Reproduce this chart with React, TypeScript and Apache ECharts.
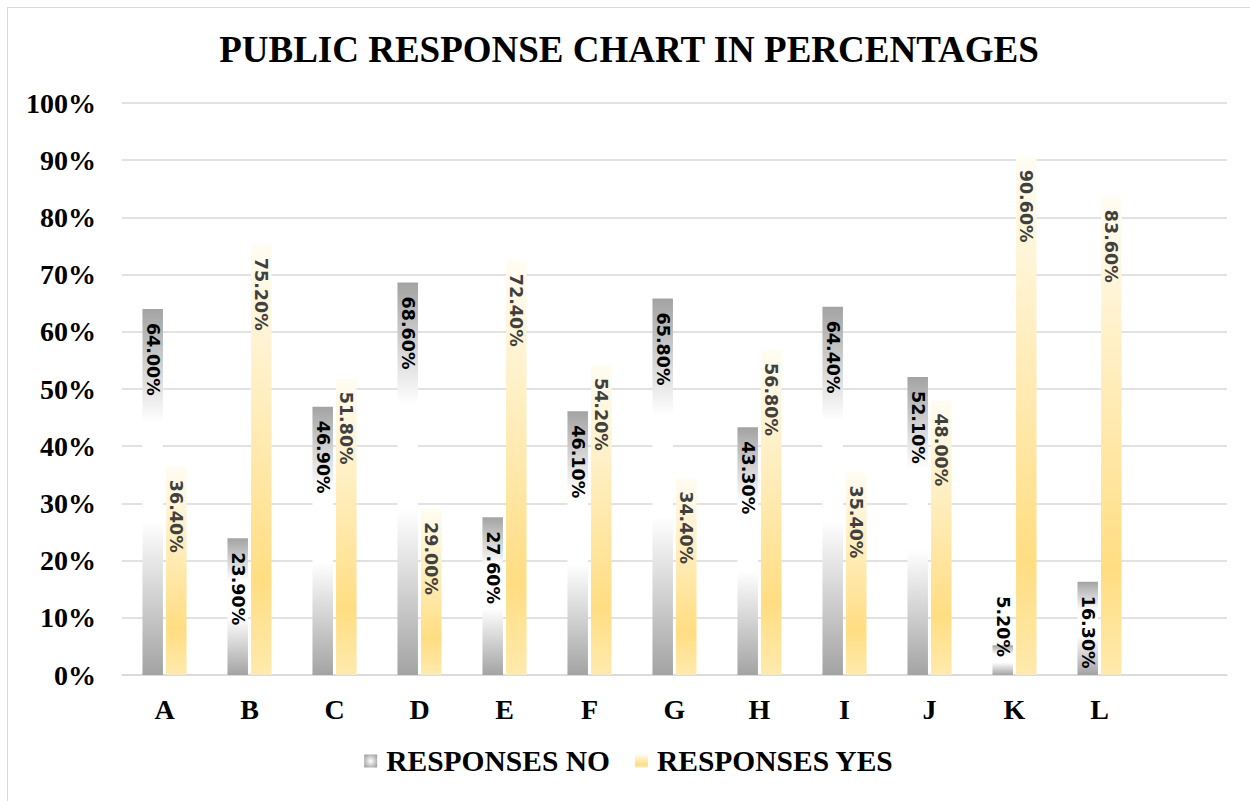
import React, { useEffect, useRef } from "react";
import * as echarts from "echarts";

const categories = ["A", "B", "C", "D", "E", "F", "G", "H", "I", "J", "K", "L", ""];
const responsesNo = [64.0, 23.9, 46.9, 68.6, 27.6, 46.1, 65.8, 43.3, 64.4, 52.1, 5.2, 16.3];
const responsesYes = [36.4, 75.2, 51.8, 29.0, 72.4, 54.2, 34.4, 56.8, 35.4, 48.0, 90.6, 83.6];
const yTicks = { min: 0, max: 100, interval: 10 };
const seriesNames = ["RESPONSES NO", "RESPONSES YES"];

const serif = "'Liberation Serif', 'Times New Roman', serif";
const sans = "'DejaVu Sans', Verdana, sans-serif";

const grayGrad = new echarts.graphic.LinearGradient(0, 0, 0, 1, [
  { offset: 0, color: "#a3a3a3" },
  { offset: 0.31, color: "#ffffff" },
  { offset: 0.58, color: "#ffffff" },
  { offset: 1, color: "#a3a3a3" },
]);
const yellowGrad = new echarts.graphic.LinearGradient(0, 0, 0, 1, [
  { offset: 0, color: "#fffcf2" },
  { offset: 0.78, color: "#ffdd82" },
  { offset: 1, color: "#ffeaad" },
]);
const grayRadial = new echarts.graphic.RadialGradient(0.5, 0.5, 0.6, [
  { offset: 0, color: "#ffffff" },
  { offset: 1, color: "#a3a3a3" },
]);

const fmt = (p: any) => Number(p.value).toFixed(2) + "%";

export default function App() {
  const ref = useRef<HTMLDivElement>(null);
  useEffect(() => {
    if (!ref.current) return;
    const chart = echarts.init(ref.current, undefined, { renderer: "svg" });
    const noData = responsesNo.map((v) =>
      v < 10
        ? {
            value: v,
            label: { position: "insideBottom", distance: 18, align: "right" },
          }
        : { value: v }
    );
    chart.setOption({
      animation: false,
      title: {
        text: "PUBLIC RESPONSE CHART IN PERCENTAGES",
        left: "center",
        top: 18,
        textStyle: { fontFamily: serif, fontWeight: "bold", fontSize: 37, color: "#000" },
      },
      legend: {
        bottom: 20,
        left: "center",
        itemWidth: 13,
        itemHeight: 13,
        itemGap: 25,
        textStyle: { fontFamily: serif, fontWeight: "bold", fontSize: 29.5, color: "#000", padding: [0, 0, 0, 4] },
        data: [
          { name: seriesNames[0], icon: "rect", itemStyle: { color: grayRadial } },
          { name: seriesNames[1], icon: "rect", itemStyle: { color: yellowGrad } },
        ],
      },
      grid: { left: 114, right: 23, top: 95, bottom: 126, containLabel: false },
      xAxis: {
        type: "category",
        data: categories,
        axisLine: { show: true, lineStyle: { color: "#d9d9d9", width: 1.5 } },
        axisTick: { show: false },
        axisLabel: { fontFamily: serif, fontWeight: "bold", fontSize: 28, color: "#000", margin: 20 },
      },
      yAxis: {
        type: "value",
        min: yTicks.min,
        max: yTicks.max,
        interval: yTicks.interval,
        axisLine: { show: false },
        axisTick: { show: false },
        splitLine: { lineStyle: { color: "#d9d9d9", width: 1.5 } },
        axisLabel: {
          formatter: "{value}%",
          fontFamily: serif,
          fontWeight: "bold",
          fontSize: 28,
          color: "#000",
          margin: 26,
        },
      },
      series: [
        {
          name: seriesNames[0],
          type: "bar",
          data: noData,
          barWidth: 20.5,
          barGap: "15%",
          itemStyle: { color: grayGrad },
          label: {
            show: true,
            position: "insideTop",
            distance: 14,
            rotate: -90,
            align: "left",
            verticalAlign: "middle",
            formatter: fmt,
            fontFamily: sans,
            fontWeight: "bold",
            fontSize: 17.5,
            color: "#000",
          },
        },
        {
          name: seriesNames[1],
          type: "bar",
          data: responsesYes,
          barWidth: 20.5,
          barGap: "15%",
          itemStyle: { color: yellowGrad },
          label: {
            show: true,
            position: "insideTop",
            distance: 13,
            rotate: -90,
            align: "left",
            verticalAlign: "middle",
            formatter: fmt,
            fontFamily: sans,
            fontWeight: "bold",
            fontSize: 17.5,
            color: "#404040",
          },
        },
      ],
    });
    return () => chart.dispose();
  }, []);
  return (
    <div
      style={{
        position: "absolute",
        left: 7,
        top: 7,
        width: 1270,
        height: 820,
        border: "1.5px solid #d9d9d9",
        background: "#fff",
        boxSizing: "border-box",
        overflow: "hidden",
      }}
    >
      <div ref={ref} style={{ width: 1242, height: 793 }} />
    </div>
  );
}
